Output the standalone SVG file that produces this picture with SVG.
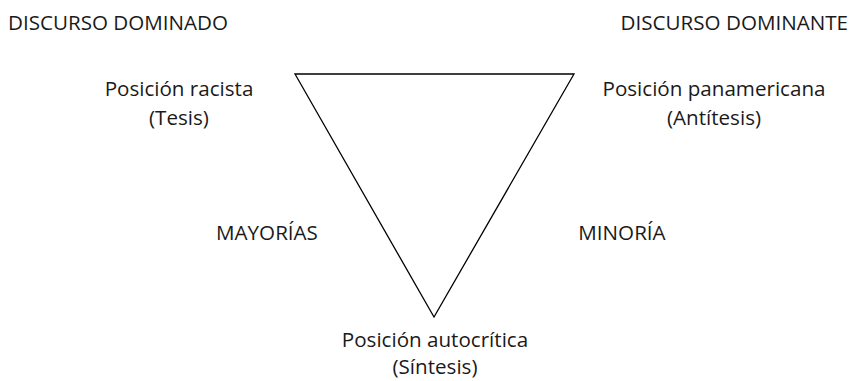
<svg xmlns="http://www.w3.org/2000/svg" width="855" height="381" viewBox="0 0 855 381">
<style>
text { font-family: "Open Sans", "Noto Sans", sans-serif; font-size: 20.6px; fill: #1a1a1a; }
.c { text-anchor: middle; }
.tri { fill: none; stroke: #000; stroke-width: 1.3; }
</style>
<rect width="855" height="381" fill="#fff"/>
<g id="connectors">
<polygon class="tri" points="295,74 574,74 434,317"/>
</g>
<g id="discurso-dominado"><text x="8" y="30">DISCURSO DOMINADO</text></g>
<g id="discurso-dominante"><text x="848" y="30" text-anchor="end">DISCURSO DOMINANTE</text></g>
<g id="tesis"><text class="c" x="179" y="96">Posición racista</text><text class="c" x="179" y="125">(Tesis)</text></g>
<g id="antitesis"><text class="c" x="714" y="96">Posición panamericana</text><text class="c" x="714" y="125">(Antítesis)</text></g>
<g id="mayorias"><text class="c" x="267" y="240">MAYORÍAS</text></g>
<g id="minoria"><text class="c" x="622" y="240">MINORÍA</text></g>
<g id="sintesis"><text class="c" x="435" y="347">Posición autocrítica</text><text class="c" x="435" y="374">(Síntesis)</text></g>
</svg>
